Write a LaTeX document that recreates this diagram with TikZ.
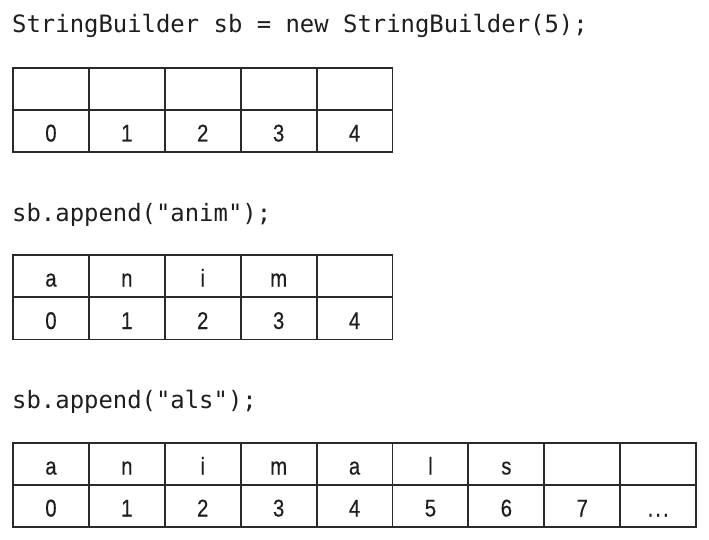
\documentclass[tikz,border=0pt]{standalone}
\usepackage{fontspec}
\newfontfamily\codefont{DejaVu Sans Mono}
\newfontfamily\cellfont[FakeStretch=0.84,FakeBold=0.4]{Liberation Sans}
\definecolor{linegray}{HTML}{2A2A2A}
\definecolor{textgray}{HTML}{1E1E1E}
\begin{document}
\begin{tikzpicture}[x=1pt,y=-1pt,
  cell/.style={draw=linegray, line width=1.9pt, minimum width=75.9pt, minimum height=42pt,
    inner sep=0pt, outer sep=0pt, anchor=north west, text height=31.5pt, text depth=10.5pt,
    text=textgray, font=\cellfont\fontsize{24.2}{25}\selectfont},
  code/.style={anchor=base west, inner sep=0pt, text=textgray,
    font=\codefont\fontsize{23.9}{26}\selectfont}]
\useasboundingbox (0,0) rectangle (709,540);
% first statement
\node[code] (code1) at (12,33) {StringBuilder sb = new StringBuilder(5);};
\foreach \t [count=\i from 0] in {{},{},{},{},{}}
  \node[cell] (a0\i) at ({13+75.9*\i},68) {\t};
\foreach \t [count=\i from 0] in {0,1,2,3,4}
  \node[cell] (a1\i) at ({13+75.9*\i},110) {\t};
% second statement
\node[code] (code2) at (12,221) {sb.append("anim");};
\foreach \t [count=\i from 0] in {a,n,i,m,{}}
  \node[cell] (b0\i) at ({13+75.9*\i},255) {\t};
\foreach \t [count=\i from 0] in {0,1,2,3,4}
  \node[cell] (b1\i) at ({13+75.9*\i},297.5) {\t};
% third statement
\node[code] (code3) at (12,408) {sb.append("als");};
\foreach \t [count=\i from 0] in {a,n,i,m,a,l,s,{},{}}
  \node[cell] (c0\i) at ({13+75.9*\i},443) {\t};
\foreach \t [count=\i from 0] in {0,1,2,3,4,5,6,7}
  \node[cell] (c1\i) at ({13+75.9*\i},485) {\t};
\node[cell] (c18) at ({13+75.9*8},485) {.\kern2pt.\kern2pt.};
\end{tikzpicture}
\end{document}
